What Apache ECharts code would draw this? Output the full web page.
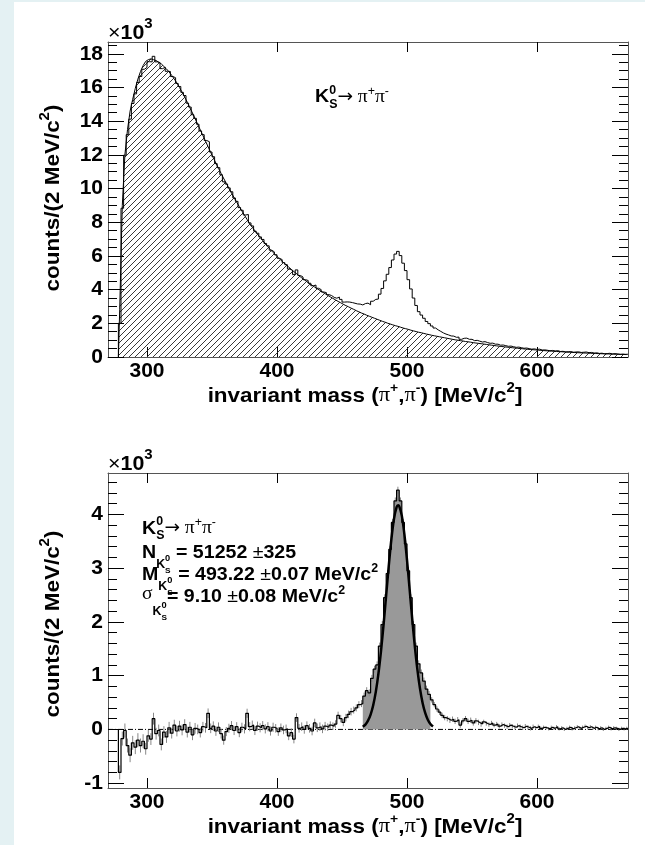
<!DOCTYPE html>
<html>
<head>
<meta charset="utf-8">
<script src="https://cdn.jsdelivr.net/npm/echarts@6/dist/echarts.min.js"></script>
<style>
html,body{margin:0;padding:0;background:#e4f1f3;width:645px;height:845px;overflow:hidden}
#panel{position:absolute;left:14px;top:2px;width:631px;height:843px;background:#ffffff}
#chart{position:absolute;left:0;top:0;width:645px;height:845px}
</style>
</head>
<body>
<div id="panel"></div>
<div id="chart"></div>
<script>
// ---------------- DATA ----------------
// histogram binning: 2 MeV bins starting at 278 MeV
const binStart = 278;
const binWidth = 2;

// top panel: background (hatched), in units of 10^3 counts per bin
const bgK = [
  2.8, 9.0, 12.0, 13.5, 14.6, 15.3, 15.95, 16.5, 16.95, 17.3,
  17.55, 17.65, 17.7, 17.65, 17.6, 17.5, 17.4, 17.25, 17.1, 16.92,
  16.72, 16.5, 16.27, 16.0, 15.72, 15.43, 15.12, 14.8, 14.48, 14.15,
  13.82, 13.48, 13.15, 12.82, 12.48, 12.15, 11.83, 11.51, 11.2, 10.9,
  10.6, 10.31, 10.02, 9.74, 9.46, 9.19, 8.93, 8.67, 8.42, 8.16,
  7.91, 7.7, 7.49, 7.29, 7.1, 6.91, 6.73, 6.55, 6.37, 6.2,
  6.05, 5.9, 5.75, 5.61, 5.47, 5.34, 5.2, 5.07, 4.95, 4.82,
  4.7, 4.59, 4.47, 4.36, 4.26, 4.15, 4.05, 3.95, 3.85, 3.76,
  3.66, 3.57, 3.48, 3.39, 3.3, 3.22, 3.13, 3.05, 2.98, 2.9,
  2.83, 2.75, 2.68, 2.61, 2.55, 2.48, 2.42, 2.36, 2.3, 2.24,
  2.18, 2.12, 2.07, 2.01, 1.96, 1.91, 1.86, 1.82, 1.77, 1.72,
  1.68, 1.64, 1.59, 1.55, 1.51, 1.47, 1.44, 1.4, 1.36, 1.33,
  1.29, 1.26, 1.23, 1.2, 1.17, 1.14, 1.11, 1.08, 1.05, 1.02,
  1.0, 0.97, 0.95, 0.92, 0.9, 0.88, 0.85, 0.83, 0.81, 0.79,
  0.77, 0.747, 0.724, 0.703, 0.682, 0.661, 0.641, 0.622, 0.603, 0.585,
  0.568, 0.551, 0.534, 0.518, 0.503, 0.488, 0.473, 0.459, 0.445, 0.432,
  0.419, 0.406, 0.394, 0.382, 0.371, 0.36, 0.349, 0.338, 0.328, 0.318,
  0.309, 0.3, 0.291, 0.282, 0.274, 0.265, 0.257, 0.25, 0.242, 0.235,
  0.228, 0.221, 0.214, 0.208, 0.202, 0.196, 0.19, 0.184, 0.179, 0.173,
  0.168, 0.163, 0.158, 0.153, 0.149, 0.144
];

// bottom panel: background-subtracted counts (10^3 per bin)
const residK = [
  -0.80, -0.17, -0.02, -0.30, -0.48, -0.25, -0.33, -0.20, -0.30, -0.22,
  -0.36, -0.12, -0.18, 0.20, -0.08, -0.02, -0.28, -0.05, -0.14, 0.03,
  -0.07, 0.08, -0.03, 0.06, -0.01, 0.09, -0.05, 0.04, -0.10, 0.02,
  0.00, -0.06, 0.05, 0.03, 0.30, 0.02, 0.06, -0.03, 0.04, -0.08,
  -0.20, -0.04, 0.02, 0.07, -0.02, 0.05, -0.06, 0.04, 0.01, 0.30,
  0.05, 0.08, -0.02, 0.06, 0.03, 0.07, 0.01, 0.05, -0.03, 0.04,
  0.02, -0.04, 0.03, -0.01, 0.01, -0.12, -0.06, -0.18, 0.22, 0.02,
  0.05, 0.00, 0.07, 0.02, -0.03, 0.12, 0.03, 0.05, 0.01, 0.06,
  0.04, 0.08, 0.06, 0.10, 0.26, 0.20, 0.13, 0.22, 0.28, 0.33,
  0.36, 0.40, 0.46, 0.48, 0.62, 0.72, 0.68, 0.95, 1.12, 1.20,
  1.55, 1.95, 2.45, 2.90, 3.35, 3.85, 4.25, 4.45, 4.25, 3.85,
  3.45, 2.95, 2.45, 1.95, 1.55, 1.22, 1.05, 0.90, 0.75, 0.65,
  0.55, 0.46, 0.38, 0.32, 0.26, 0.22, 0.20, 0.17, 0.19, 0.15,
  0.18, 0.08, 0.16, 0.20, 0.15, 0.17, 0.12, 0.16, 0.13, 0.10,
  0.14, 0.11, 0.09, 0.12, 0.08, 0.10, 0.06, 0.09, 0.07, 0.05,
  0.08, 0.06, 0.04, 0.07, 0.05, 0.03, 0.06, 0.04, 0.02, 0.05,
  0.03, 0.06, 0.02, 0.04, 0.03, 0.01, 0.04, 0.02, 0.05, 0.01,
  0.03, 0.00, 0.02, 0.04, 0.01, 0.03, 0.05, 0.02, 0.04, 0.06,
  0.03, 0.05, 0.02, 0.04, 0.01, 0.03, 0.00, 0.02, 0.04, 0.01,
  0.03, 0.02, 0.00, 0.02, 0.01, 0.02
];

// statistical error of the subtracted histogram (10^3)
const residErrK = [
  0.13, 0.13, 0.13, 0.13, 0.13, 0.13, 0.13, 0.13, 0.13, 0.13,
  0.11, 0.11, 0.11, 0.11, 0.11, 0.11, 0.11, 0.11, 0.11, 0.11,
  0.10, 0.10, 0.10, 0.10, 0.10, 0.10, 0.10, 0.10, 0.10, 0.10,
  0.09, 0.09, 0.09, 0.09, 0.09, 0.09, 0.09, 0.09, 0.09, 0.09,
  0.085, 0.085, 0.085, 0.085, 0.085, 0.085, 0.085, 0.085, 0.085, 0.085,
  0.085, 0.085, 0.085, 0.085, 0.085, 0.085, 0.085, 0.085, 0.085, 0.085,
  0.08, 0.08, 0.08, 0.08, 0.08, 0.08, 0.08, 0.08, 0.08, 0.08,
  0.08, 0.08, 0.08, 0.08, 0.08, 0.08, 0.08, 0.08, 0.08, 0.08,
  0.07, 0.07, 0.07, 0.07, 0.07, 0.07, 0.07, 0.07, 0.07, 0.07,
  0.065, 0.065, 0.065, 0.065, 0.065, 0.065, 0.065, 0.065, 0.065, 0.065,
  0.065, 0.065, 0.065, 0.065, 0.065, 0.065, 0.065, 0.065, 0.065, 0.065,
  0.065, 0.065, 0.065, 0.065, 0.065, 0.065, 0.065, 0.065, 0.065, 0.065,
  0.05, 0.05, 0.05, 0.05, 0.05, 0.05, 0.05, 0.05, 0.05, 0.05,
  0.05, 0.05, 0.05, 0.05, 0.05, 0.05, 0.05, 0.05, 0.05, 0.05,
  0.04, 0.04, 0.04, 0.04, 0.04, 0.04, 0.04, 0.04, 0.04, 0.04,
  0.04, 0.04, 0.04, 0.04, 0.04, 0.04, 0.04, 0.04, 0.04, 0.04,
  0.03, 0.03, 0.03, 0.03, 0.03, 0.03, 0.03, 0.03, 0.03, 0.03,
  0.03, 0.03, 0.03, 0.03, 0.03, 0.03, 0.03, 0.03, 0.03, 0.03,
  0.03, 0.03, 0.03, 0.03, 0.03, 0.03, 0.03, 0.03, 0.03, 0.03,
  0.03, 0.03, 0.03, 0.03, 0.03, 0.03
];

// gaussian fit curve (bottom panel), mass in MeV and value in 10^3
const fitMass = [466, 468, 470, 472, 474, 476, 478, 480, 482, 484, 486, 488, 490, 492, 493.2,
                 494, 496, 498, 500, 502, 504, 506, 508, 510, 512, 514, 516, 518, 520];
const fitK = [0.048, 0.090, 0.162, 0.276, 0.450, 0.699, 1.033, 1.456, 1.955, 2.502, 3.050, 3.542, 3.920, 4.134, 4.17,
              4.154, 3.977, 3.628, 3.154, 2.612, 2.062, 1.551, 1.111, 0.759, 0.493, 0.306, 0.181, 0.102, 0.055];

// signal window (filled grey)
const signalWindow = [466, 518];

// axis ticks
const xTicks = [300, 400, 500, 600];
const yTopTicks = [0, 2, 4, 6, 8, 10, 12, 14, 16, 18];
const yTopMinor = [0.5, 1, 1.5, 2.5, 3, 3.5, 4.5, 5, 5.5, 6.5, 7, 7.5, 8.5, 9, 9.5, 10.5, 11, 11.5,
                   12.5, 13, 13.5, 14.5, 15, 15.5, 16.5, 17, 17.5, 18.5];
const yBotTicks = [-1, 0, 1, 2, 3, 4];
const yBotMinor = [-0.8, -0.6, -0.4, -0.2, 0.2, 0.4, 0.6, 0.8, 1.2, 1.4, 1.6, 1.8, 2.2, 2.4, 2.6, 2.8,
                   3.2, 3.4, 3.6, 3.8, 4.2, 4.4, 4.6];

// ---------------- BUILD ----------------
const FONT = '"Liberation Sans", Arial, Helvetica, sans-serif';
const SERIF = '"Liberation Serif", "Times New Roman", serif';
const ARROWF = '"DejaVu Sans", sans-serif';
const FRAME = '#555555';

const nBins = bgK.length;
const centers = bgK.map((_, i) => binStart + binWidth * (i + 0.5));
function stepPoints(vals, from, to) {
  const pts = [];
  for (let i = from; i < to; i++) {
    const lo = binStart + binWidth * i, hi = lo + binWidth;
    pts.push([lo, vals[i]], [hi, vals[i]]);
  }
  return pts;
}
const dataK = bgK.map((b, i) => +(b + residK[i]).toFixed(3));
const topData = [[binStart, 0]].concat(stepPoints(dataK, 0, nBins));
const bgLine = [[binStart, 0]].concat(centers.map((c, i) => [c, bgK[i]]));
const residLine = [[binStart, 0]].concat(stepPoints(residK, 0, nBins));
let sigFrom = centers.findIndex(c => c > signalWindow[0]);
let sigTo = centers.findIndex(c => c > signalWindow[1]);
const sigFill = stepPoints(residK, sigFrom, sigTo);
const errBars = centers.map((c, i) => [c, residK[i] - residErrK[i], residK[i] + residErrK[i]]);
const fitLine = fitMass.map((m, i) => [m, fitK[i]]);

function hatchPattern() {
  const c = document.createElement('canvas');
  const n = 6;
  c.width = n; c.height = n;
  const g = c.getContext('2d');
  g.strokeStyle = '#222';
  g.lineWidth = 0.9;
  g.beginPath();
  for (const o of [-n, 0, n]) { g.moveTo(o, n); g.lineTo(o + n, 0); }
  g.stroke();
  return c;
}

// ----- composite text layout -----
const mctx = document.createElement('canvas').getContext('2d');
function fontStr(r) { return (r.b ? 'bold ' : '') + r.s + 'px ' + (r.f || FONT); }
function layoutRuns(runs, k) {
  let x = 0, keepW = 0; const out = [];
  for (const r of runs) {
    mctx.font = fontStr(r);
    const w = mctx.measureText(r.t).width * k;
    out.push({ r, x });
    if (r.keep) keepW = Math.max(keepW, w);
    else { x += Math.max(w, keepW); keepW = 0; }
  }
  return { items: out, width: x };
}
function runsText(runs, x0, baseline, align, k) {
  k = k || 1;
  const L = layoutRuns(runs, k);
  const start = align === 'center' ? x0 - L.width / 2 : x0;
  return L.items.map(it => ({
    type: 'text', silent: true,
    x: start + it.x, y: baseline + (it.r.dy || 0) - 0.345 * it.r.s, scaleX: k,
    style: { text: it.r.t, font: fontStr(it.r), fill: '#000',
             align: 'left', verticalAlign: 'middle', textAlign: 'left', textVerticalAlign: 'middle' }
  }));
}

const S = 19;   // annotation size
const T = 21;   // axis title size
const KT = 1.07; // horizontal stretch of titles
const KA = 1.03; // horizontal stretch of annotations
const xTitleRuns = [
  { t: 'invariant mass (', s: T, b: 1 }, { t: 'π', s: T, f: SERIF }, { t: '+', s: 13, b: 1, dy: -10 },
  { t: ',', s: T, b: 1 }, { t: 'π', s: T, f: SERIF }, { t: '-', s: 13, b: 1, dy: -10 },
  { t: ') [MeV/c', s: T, b: 1 }, { t: '2', s: 14, b: 1, dy: -10 }, { t: ']', s: T, b: 1 }
];
const yTitleRuns = [
  { t: 'counts/(2 MeV/c', s: T, b: 1 }, { t: '2', s: 14, b: 1, dy: -10 }, { t: ')', s: T, b: 1 }
];
const expRuns = [{ t: '×', s: 20 }, { t: '10', s: 20, b: 1 }, { t: '3', s: 14, b: 1, dy: -11 }];
const decayRuns = [
  { t: 'K', s: S, b: 1 }, { t: '0', s: 12, b: 1, dy: -9, keep: 1 }, { t: 'S', s: 12, b: 1, dy: 5 },
  { t: '→', s: 18, f: ARROWF }, { t: ' π', s: S, f: SERIF }, { t: '+', s: 12, dy: -8 },
  { t: 'π', s: S, f: SERIF }, { t: '-', s: 12, dy: -8 }
];
function kSub(dy) {
  return [{ t: 'K', s: 12, b: 1, dy: dy }, { t: '0', s: 9, b: 1, dy: dy - 7, keep: 1 }, { t: 'S', s: 8, b: 1, dy: dy + 5 }];
}
const nRuns = [{ t: 'N', s: S, b: 1 }].concat(kSub(10),
  [{ t: ' = 51252 ', s: S, b: 1 }, { t: '±', s: S }, { t: '325', s: S, b: 1 }]);
const mRuns = [{ t: 'M', s: S, b: 1 }].concat(kSub(9),
  [{ t: ' = 493.22 ', s: S, b: 1 }, { t: '±', s: S }, { t: '0.07 MeV/c', s: S, b: 1 }, { t: '2', s: 12, b: 1, dy: -9 }]);
const sRuns = [{ t: 'σ', s: S, f: SERIF, dy: -3 }].concat(kSub(12),
  [{ t: '= 9.10 ', s: S, b: 1 }, { t: '±', s: S }, { t: '0.08 MeV/c', s: S, b: 1 }, { t: '2', s: 12, b: 1, dy: -9 }]);

const graphics = [].concat(
  runsText(expRuns, 108, 40, 'left', KT),
  runsText(expRuns, 108, 471, 'left', KT),
  runsText(decayRuns, 315, 103.5, 'left', KA),
  runsText(xTitleRuns, 365, 403, 'center', KT),
  runsText(xTitleRuns, 365, 834, 'center', KT),
  runsText(decayRuns, 142, 535, 'left', KA),
  runsText(nRuns, 142, 559, 'left', KA),
  runsText(mRuns, 142, 581.5, 'left', KA),
  runsText(sRuns, 142, 603.5, 'left', KA),
  [{ type: 'group', x: 60, y: 198, rotation: Math.PI / 2, children: runsText(yTitleRuns, 0, 0, 'center', KT) },
   { type: 'group', x: 60, y: 624, rotation: Math.PI / 2, children: runsText(yTitleRuns, 0, 0, 'center', KT) }]
);

// ----- axes -----
function xAxes(grid) {
  const base = {
    type: 'value', gridIndex: grid, min: 270, max: 670, splitLine: { show: false },
    axisLine: { show: true, onZero: false, lineStyle: { color: FRAME, width: 1 } },
    axisTick: { show: true, inside: true, length: 10, customValues: xTicks, lineStyle: { color: '#000', width: 1 } }
  };
  return [
    Object.assign({}, base, { position: 'bottom',
      axisLabel: { show: true, customValues: xTicks, fontSize: 21, fontWeight: 'bold', fontFamily: FONT, color: '#000', margin: 4 } }),
    Object.assign({}, base, { position: 'top', axisLabel: { show: false } })
  ];
}
function yAxes(grid, min, max, major, minor) {
  const c = { type: 'value', gridIndex: grid, min: min, max: max, splitLine: { show: false } };
  return [
    Object.assign({}, c, { position: 'left', axisLine: { show: true, onZero: false, lineStyle: { color: FRAME, width: 1 } },
      axisTick: { show: true, inside: true, length: 16, customValues: major, lineStyle: { color: '#000' } },
      axisLabel: { show: true, customValues: major, fontSize: 21, fontWeight: 'bold', fontFamily: FONT, color: '#000', margin: 5 } }),
    Object.assign({}, c, { position: 'left', axisLine: { show: false },
      axisTick: { show: true, inside: true, length: 9, customValues: minor, lineStyle: { color: '#000' } }, axisLabel: { show: false } }),
    Object.assign({}, c, { position: 'right', axisLine: { show: true, onZero: false, lineStyle: { color: FRAME, width: 1 } },
      axisTick: { show: true, inside: true, length: 16, customValues: major, lineStyle: { color: '#000' } }, axisLabel: { show: false } }),
    Object.assign({}, c, { position: 'right', axisLine: { show: false },
      axisTick: { show: true, inside: true, length: 9, customValues: minor, lineStyle: { color: '#000' } }, axisLabel: { show: false } })
  ];
}

const option = {
  animation: false,
  backgroundColor: 'transparent',
  grid: [
    { left: 108, top: 42, width: 520, height: 315, containLabel: false, outerBoundsMode: 'none' },
    { left: 108, top: 473, width: 520, height: 315, containLabel: false, outerBoundsMode: 'none' }
  ],
  xAxis: xAxes(0).concat(xAxes(1)),
  yAxis: yAxes(0, 0, 18.7, yTopTicks, yTopMinor).concat(yAxes(1, -1.09, 4.77, yBotTicks, yBotMinor)),
  series: [
    { name: 'background', type: 'line', xAxisIndex: 0, yAxisIndex: 0, data: bgLine, showSymbol: false, symbol: 'none',
      lineStyle: { color: '#000', width: 1 }, areaStyle: { color: { image: hatchPattern(), repeat: 'repeat' }, opacity: 1 }, z: 2 },
    { name: 'data', type: 'line', xAxisIndex: 0, yAxisIndex: 0, data: topData, showSymbol: false, symbol: 'none',
      lineStyle: { color: '#000', width: 1 }, z: 3 },
    { name: 'zero', type: 'line', xAxisIndex: 2, yAxisIndex: 4, data: [[270, 0], [670, 0]], showSymbol: false, symbol: 'none',
      lineStyle: { color: '#000', width: 1, type: [5, 2, 1, 2] }, z: 2 },
    { name: 'signal', type: 'line', xAxisIndex: 2, yAxisIndex: 4, data: sigFill, showSymbol: false, symbol: 'none',
      lineStyle: { width: 0, color: '#999' }, areaStyle: { color: '#999999', opacity: 1 }, z: 3 },
    { name: 'errors', type: 'custom', xAxisIndex: 2, yAxisIndex: 4, data: errBars, encode: { x: 0, y: [1, 2] }, z: 4,
      renderItem: function (params, api) {
        const p1 = api.coord([api.value(0), api.value(1)]);
        const p2 = api.coord([api.value(0), api.value(2)]);
        return { type: 'line', shape: { x1: p1[0], y1: p1[1], x2: p2[0], y2: p2[1] }, style: { stroke: '#888', lineWidth: 1 } };
      } },
    { name: 'subtracted', type: 'line', xAxisIndex: 2, yAxisIndex: 4, data: residLine, showSymbol: false, symbol: 'none',
      lineStyle: { color: '#000', width: 1.2 }, z: 5 },
    { name: 'fit', type: 'line', xAxisIndex: 2, yAxisIndex: 4, data: fitLine, showSymbol: false, symbol: 'none', smooth: 0.3,
      lineStyle: { color: '#000', width: 2.5 }, z: 6 }
  ],
  graphic: graphics
};

const chart = echarts.init(document.getElementById('chart'), null, { renderer: 'canvas', width: 645, height: 845 });
chart.setOption(option);
</script>
</body>
</html>
